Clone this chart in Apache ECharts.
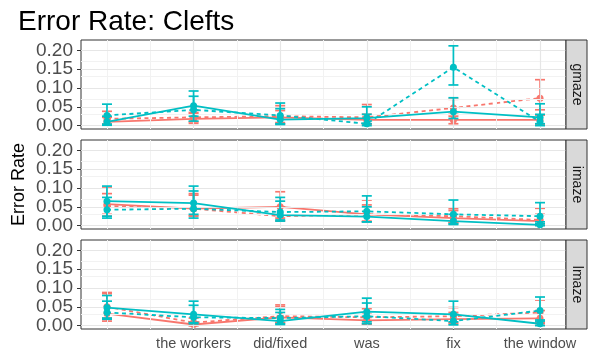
<!DOCTYPE html>
<html>
<head>
<meta charset="utf-8">
<script src="https://cdn.jsdelivr.net/npm/echarts@6/dist/echarts.min.js"></script>
<style>html,body{margin:0;padding:0;background:#fff}#c{width:589px;height:352px}</style>
</head>
<body>
<div id="c"></div>
<script>
// ---- data ----
const categories = ["", "the workers", "did/fixed", "was", "fix", "the window"];
const panels = ["gmaze", "imaze", "lmaze"];
const yTicks = [0, 0.05, 0.10, 0.15, 0.20];

// gmaze
const gmazeRedSolid   = [0.010, 0.018, 0.022, 0.015, 0.015, 0.015];
const gmazeRedSolidLo = [0.002, 0.006, 0.008, 0.003, 0.005, 0.003];
const gmazeRedSolidHi = [0.022, 0.032, 0.040, 0.030, 0.030, 0.042];
const gmazeRedDash    = [0.018, 0.022, 0.025, 0.022, 0.047, 0.073];
const gmazeRedDashLo  = [0.004, 0.010, 0.005, 0.005, 0.025, 0.028];
const gmazeRedDashHi  = [0.038, 0.035, 0.053, 0.056, 0.070, 0.122];
const gmazeTealSolid   = [0.010, 0.053, 0.016, 0.020, 0.037, 0.022];
const gmazeTealSolidLo = [0.001, 0.025, 0.003, 0.005, 0.019, 0.005];
const gmazeTealSolidHi = [0.025, 0.092, 0.045, 0.050, 0.074, 0.058];
const gmazeTealDash    = [0.027, 0.042, 0.027, 0.005, 0.155, 0.010];
const gmazeTealDashLo  = [0.004, 0.012, 0.005, 0.000, 0.108, 0.000];
const gmazeTealDashHi  = [0.057, 0.078, 0.060, 0.030, 0.212, 0.030];

// imaze
const imazeRedSolid   = [0.057, 0.045, 0.050, 0.030, 0.020, 0.012];
const imazeRedSolidLo = [0.030, 0.028, 0.020, 0.012, 0.008, 0.001];
const imazeRedSolidHi = [0.100, 0.085, 0.090, 0.068, 0.040, 0.030];
const imazeRedDash    = [0.052, 0.045, 0.025, 0.030, 0.025, 0.015];
const imazeRedDashLo  = [0.025, 0.025, 0.012, 0.010, 0.008, 0.001];
const imazeRedDashHi  = [0.085, 0.081, 0.050, 0.055, 0.045, 0.046];
const imazeTealSolid   = [0.065, 0.060, 0.028, 0.024, 0.012, 0.002];
const imazeTealSolidLo = [0.025, 0.030, 0.012, 0.010, 0.003, 0.000];
const imazeTealSolidHi = [0.105, 0.105, 0.065, 0.050, 0.030, 0.010];
const imazeTealDash    = [0.042, 0.045, 0.036, 0.038, 0.030, 0.025];
const imazeTealDashLo  = [0.020, 0.020, 0.015, 0.010, 0.005, 0.005];
const imazeTealDashHi  = [0.075, 0.092, 0.075, 0.079, 0.068, 0.061];

// lmaze
const lmazeRedSolid   = [0.032, 0.003, 0.022, 0.014, 0.017, 0.019];
const lmazeRedSolidLo = [0.012, 0.000, 0.008, 0.003, 0.005, 0.005];
const lmazeRedSolidHi = [0.085, 0.010, 0.050, 0.030, 0.035, 0.040];
const lmazeRedDash    = [0.050, 0.008, 0.025, 0.022, 0.025, 0.035];
const lmazeRedDashLo  = [0.020, 0.000, 0.008, 0.005, 0.008, 0.008];
const lmazeRedDashHi  = [0.088, 0.020, 0.055, 0.045, 0.048, 0.068];
const lmazeTealSolid   = [0.048, 0.030, 0.012, 0.037, 0.030, 0.005];
const lmazeTealSolidLo = [0.020, 0.008, 0.003, 0.010, 0.010, 0.000];
const lmazeTealSolidHi = [0.080, 0.065, 0.035, 0.073, 0.065, 0.015];
const lmazeTealDash    = [0.035, 0.022, 0.020, 0.025, 0.012, 0.040];
const lmazeTealDashLo  = [0.017, 0.005, 0.005, 0.005, 0.002, 0.012];
const lmazeTealDashHi  = [0.065, 0.054, 0.043, 0.060, 0.030, 0.076];

const panelData = [
  [[gmazeRedSolid, gmazeRedSolidLo, gmazeRedSolidHi], [gmazeRedDash, gmazeRedDashLo, gmazeRedDashHi],
   [gmazeTealSolid, gmazeTealSolidLo, gmazeTealSolidHi], [gmazeTealDash, gmazeTealDashLo, gmazeTealDashHi]],
  [[imazeRedSolid, imazeRedSolidLo, imazeRedSolidHi], [imazeRedDash, imazeRedDashLo, imazeRedDashHi],
   [imazeTealSolid, imazeTealSolidLo, imazeTealSolidHi], [imazeTealDash, imazeTealDashLo, imazeTealDashHi]],
  [[lmazeRedSolid, lmazeRedSolidLo, lmazeRedSolidHi], [lmazeRedDash, lmazeRedDashLo, lmazeRedDashHi],
   [lmazeTealSolid, lmazeTealSolidLo, lmazeTealSolidHi], [lmazeTealDash, lmazeTealDashLo, lmazeTealDashHi]]
];
const seriesStyle = [
  {color: '#F8766D', dash: 'solid'},
  {color: '#F8766D', dash: [4, 3.5]},
  {color: '#00BFC4', dash: 'solid'},
  {color: '#00BFC4', dash: [4, 3.5]}
];

// ---- layout ----
const FONT = 'Liberation Sans, Arial, Helvetica, sans-serif';
const L = 81, R = 566, panelTops = [40, 140, 240], PH = 89;
const xPos = categories.map((c, i) => i + 1);
const xMajor = [2, 3, 4, 5, 6];
const xMinor = [1, 1.5, 2.5, 3.5, 4.5, 5.5];
const yMinor = [0.025, 0.075, 0.125, 0.175, 0.225];

const grids = [], xAxes = [], yAxes = [], series = [], graphics = [];
panelTops.forEach((top, p) => {
  grids.push({left: L, top: top, width: R - L, height: PH, show: true,
    borderColor: '#333333', borderWidth: 1, backgroundColor: 'transparent'});
  const bottom = p === 2;
  xAxes.push({type: 'value', gridIndex: p, min: 0.7, max: 6.3,
    axisLine: {show: false}, splitLine: {show: false},
    axisTick: {show: bottom, customValues: xMajor, length: 4, lineStyle: {color: '#333333', width: 1}},
    axisLabel: {show: bottom, customValues: xMajor, margin: 7, color: '#4D4D4D', fontSize: 14.5, fontFamily: FONT,
      formatter: v => categories[Math.round(v) - 1]}});
  yAxes.push({type: 'value', gridIndex: p, min: -0.009, max: 0.2275,
    axisLine: {show: false}, splitLine: {show: false},
    axisTick: {show: true, customValues: yTicks, length: 4, lineStyle: {color: '#333333', width: 1}},
    axisLabel: {show: true, customValues: yTicks, margin: 8, color: '#4D4D4D', fontSize: 19, fontFamily: FONT,
      formatter: v => v.toFixed(2)}});
  // gridlines
  series.push({type: 'line', xAxisIndex: p, yAxisIndex: p, data: [], silent: true, z: 1,
    markLine: {silent: true, symbol: ['none', 'none'], label: {show: false}, animation: false,
      data: [
        ...xMinor.map(v => ({xAxis: v, lineStyle: {color: '#F2F2F2', width: 1, type: 'solid'}})),
        ...yMinor.map(v => ({yAxis: v, lineStyle: {color: '#F2F2F2', width: 1, type: 'solid'}})),
        ...xMajor.map(v => ({xAxis: v, lineStyle: {color: '#E6E6E6', width: 1.2, type: 'solid'}})),
        ...yTicks.map(v => ({yAxis: v, lineStyle: {color: '#E6E6E6', width: 1.2, type: 'solid'}}))
      ]}});
  panelData[p].forEach((arrs, s) => {
    const st = seriesStyle[s];
    series.push({type: 'custom', xAxisIndex: p, yAxisIndex: p, z: 3 + s, silent: true,
      data: xPos.map((x, i) => [x, arrs[1][i], arrs[2][i]]),
      encode: {x: 0, y: [1, 2]},
      renderItem: (params, api) => {
        const x = api.value(0);
        const a = api.coord([x, api.value(1)]), b = api.coord([x, api.value(2)]);
        const hw = 5, style = {stroke: st.color, lineWidth: 1.7};
        return {type: 'group', children: [
          {type: 'line', shape: {x1: a[0], y1: a[1], x2: b[0], y2: b[1]}, style: style},
          {type: 'line', shape: {x1: a[0] - hw, y1: a[1], x2: a[0] + hw, y2: a[1]}, style: style},
          {type: 'line', shape: {x1: b[0] - hw, y1: b[1], x2: b[0] + hw, y2: b[1]}, style: style}
        ]};
      }});
    series.push({type: 'line', xAxisIndex: p, yAxisIndex: p, z: 3 + s, silent: true,
      data: xPos.map((x, i) => [x, arrs[0][i]]),
      symbol: 'circle', symbolSize: 7, showSymbol: true,
      itemStyle: {color: st.color},
      lineStyle: {color: st.color, width: 1.8, type: st.dash}});
  });
  // strip
  graphics.push({type: 'rect', shape: {x: R, y: top, width: 21, height: PH},
    style: {fill: '#D9D9D9', stroke: '#333333', lineWidth: 1}, z: 10});
  graphics.push({type: 'text', x: R + 10.5, y: top + PH / 2, rotation: -Math.PI / 2,
    style: {text: panels[p], fill: '#1A1A1A', font: '14px ' + FONT, align: 'center', verticalAlign: 'middle'}, z: 11});
});
graphics.push({type: 'text', x: 19, y: 184.5, rotation: Math.PI / 2,
  style: {text: 'Error Rate', fill: '#000000', font: '18px ' + FONT, align: 'center', verticalAlign: 'middle'}});

const chart = echarts.init(document.getElementById('c'), null, {renderer: 'canvas'});
chart.setOption({
  animation: false,
  backgroundColor: '#ffffff',
  title: {text: 'Error Rate: Clefts', left: 13, top: 3,
    textStyle: {color: '#000000', fontSize: 28, fontWeight: 'normal', fontFamily: FONT}},
  grid: grids, xAxis: xAxes, yAxis: yAxes, series: series, graphic: graphics
});
</script>
</body>
</html>
